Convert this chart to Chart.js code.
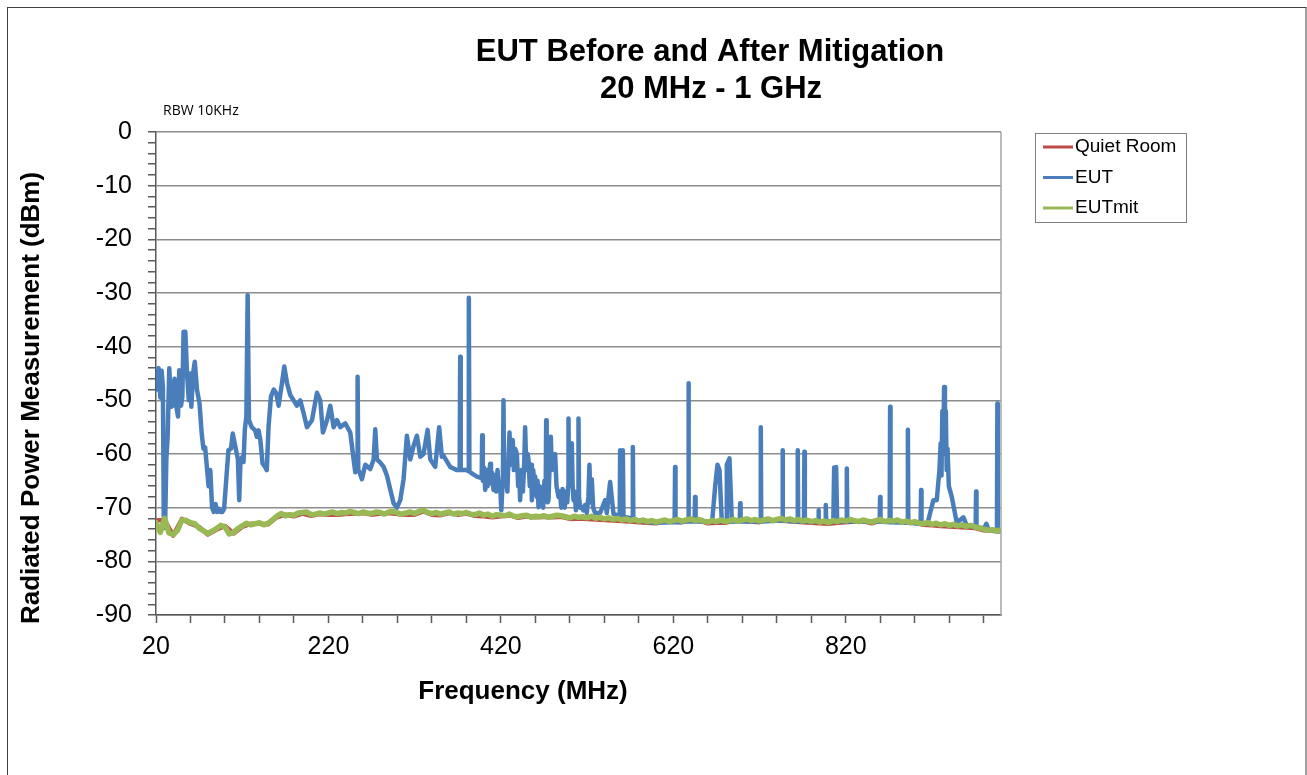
<!DOCTYPE html>
<html>
<head>
<meta charset="utf-8">
<title>EUT Before and After Mitigation</title>
<script src="https://cdn.jsdelivr.net/npm/chart.js@4.4.0/dist/chart.umd.min.js"></script>
<style>
  html, body { margin: 0; padding: 0; background: #fff; }
  #grafico { display: block; }
</style>
</head>
<body>
<canvas id="grafico" width="1307" height="775"></canvas>
<script>
// etiquetas de los ejes
const freqLabels = [20, 220, 420, 620, 820];
const levelLabels = [0, -10, -20, -30, -40, -50, -60, -70, -80, -90];
const freqTickStep = 40;
const levelTickStep = 2;

// barrido EUTmit: 20 MHz a 1 GHz cada 5 MHz
const mitStart = 20, mitStep = 5;
const mitLevel = [
  -72.8, -74.6, -72.0, -74.7, -75.0, -74.2, -72.3, -72.4, -72.8, -73.0,
  -73.8, -74.3, -74.8, -74.4, -73.9, -73.3, -73.6, -74.9, -74.6, -73.9,
  -73.4, -72.9, -73.2, -73.0, -72.8, -73.2, -72.9, -72.3, -71.6, -71.1,
  -71.5, -71.3, -71.4, -71.0, -70.9, -70.8, -71.3, -71.2, -71.0, -71.2,
  -71.0, -70.8, -71.1, -70.9, -71.0, -70.7, -70.9, -71.1, -70.8, -71.0,
  -71.1, -70.8, -70.9, -71.2, -70.8, -70.7, -71.0, -71.2, -71.0, -70.8,
  -71.1, -70.7, -70.5, -70.9, -71.1, -70.9, -71.2, -71.0, -70.8, -71.2,
  -71.0, -71.1, -70.9, -71.2, -71.3, -71.0, -71.4, -71.2, -71.6, -71.3,
  -71.4, -71.5, -71.2, -71.6, -71.7, -71.5, -71.4, -71.8, -71.6, -71.7,
  -71.5, -71.8, -71.6, -71.4, -71.5, -71.7, -71.9, -71.6, -71.8, -71.7,
  -71.9, -71.6, -72.0, -71.8, -72.1, -71.9, -72.2, -72.0, -72.3, -72.1,
  -72.4, -72.2, -72.5, -72.3, -72.6, -72.4, -72.7, -72.5, -72.3, -72.6,
  -72.4, -72.2, -72.5, -72.3, -72.1, -72.4, -72.2, -72.5, -72.7, -72.4,
  -72.6, -72.3, -72.6, -72.4, -72.2, -72.5, -72.3, -72.1, -72.4, -72.2,
  -72.5, -72.3, -72.1, -72.4, -72.2, -72.0, -72.3, -72.1, -72.4, -72.2,
  -72.5, -72.3, -72.6, -72.4, -72.7, -72.5, -72.8, -72.4, -72.6, -72.3,
  -72.5, -72.2, -72.4, -72.6, -72.3, -72.5, -72.7, -72.4, -72.2, -72.6,
  -72.4, -72.5, -72.3, -72.7, -72.5, -72.8, -72.6, -72.9, -73.0, -72.8,
  -73.1, -72.9, -73.2, -73.0, -73.3, -73.1, -73.4, -73.2, -73.5, -73.3,
  -73.6, -73.8, -74.0, -74.2, -74.1, -74.3, -74.2
];

// barrido Quiet Room: 20 MHz a 1 GHz cada 10 MHz
const roomStart = 20, roomStep = 10;
const roomLevel = [
  -72.4, -72.3, -75.2, -72.1, -73.0, -73.6, -75.0, -74.1, -73.4, -74.8,
  -73.6, -73.0, -73.0, -73.1, -71.8, -71.3, -71.6, -71.1, -71.5, -71.2,
  -71.3, -71.3, -71.2, -71.1, -71.0, -71.3, -71.1, -71.0, -71.2, -71.3,
  -71.3, -70.7, -71.3, -71.4, -71.0, -71.3, -71.1, -71.5, -71.6, -71.8,
  -71.6, -71.4, -71.9, -71.6, -71.8, -71.7, -71.8, -71.7, -72.1, -72.0,
  -72.1, -72.2, -72.3, -72.4, -72.5, -72.6, -72.7, -72.8, -72.9, -72.5,
  -72.6, -72.7, -72.3, -72.4, -72.9, -72.8, -72.8, -72.4, -72.5, -72.6,
  -72.7, -72.3, -72.4, -72.5, -72.6, -72.7, -72.8, -72.9, -73.0, -72.8,
  -72.7, -72.6, -72.5, -72.9, -72.4, -72.6, -72.5, -72.7, -72.8, -73.2,
  -73.3, -73.4, -73.5, -73.6, -73.7, -73.8, -74.2, -74.3, -74.4
];

// EUT sin mitigar: frecuencia (MHz) y nivel (dBm), fila a fila
const eutFreq = [
  20, 21, 23, 25, 26.5, 28, 29, 30.5, 32, 33.5,
  35.4, 37.5, 39.5, 41.5, 43.5, 45.5, 47, 49, 50.5, 52,
  54, 56, 58, 59.5, 61, 63, 65, 67.5, 70.5, 73,
  75, 77, 79, 81, 83, 85, 87, 89, 91, 93,
  95, 97, 99, 102, 104, 107, 109, 112, 115, 116.5,
  118, 120, 121.5, 123, 124.8, 126.3, 127.8, 131, 135, 137,
  139, 141, 143.6, 146.5, 148.5, 150.5, 153.3, 156.5, 159.5, 162.2,
  166.1, 168.8, 171.9, 175.7, 179.6, 183.5, 187.3, 191.2, 195.1, 200.9,
  206.7, 210.5, 213.6, 218.3, 222.1, 226, 229.9, 233.7, 239.5, 245.3,
  249.2, 251.1, 253.2, 253.8, 254.6, 256.1, 258.8, 262.7, 268.5, 272.4,
  274.3, 276.2, 280.1, 284, 287.8, 291.7, 295.6, 299.4, 303.3, 307.1,
  311, 314.9, 318.7, 322.6, 326.5, 330.3, 335, 338.1, 343.8, 348.4,
  351.5, 353, 361.2, 365, 369, 372.2, 372.8, 373.4, 380.5, 382.2,
  382.8, 383.5, 386.3, 392.1, 397.7, 398.3, 399, 400.5, 401.8, 403,
  404.5, 406, 407.6, 408.5, 410, 411.4, 413, 414.5, 416.1, 417.5,
  419.2, 420.5, 422.4, 423, 423.6, 425, 426.1, 427.5, 429, 430,
  431.5, 432.5, 433.8, 435, 436.5, 438.5, 440, 441.3, 442.3, 444,
  445.5, 447, 448.1, 449.5, 451, 452, 453.5, 455, 455.9, 457.5,
  459, 459.7, 461.5, 462.5, 463.6, 465, 466.5, 467.5, 469, 470.5,
  472, 472.5, 473.1, 474.2, 475.2, 476.5, 477.9, 479, 480.5, 482.9,
  484.5, 486.8, 488.5, 490, 491.5, 492.6, 494, 495.5, 497, 498,
  498.4, 499, 500.5, 502.2, 503.2, 504.2, 505.5, 507, 508.5, 509.5,
  510, 510.6, 512, 513.8, 515.5, 517.5, 519.6, 521.5, 522.7, 523.8,
  525.4, 527, 529.3, 535.1, 540.9, 542.8, 546.7, 550.6, 557.8, 558.3,
  559.5, 561.4, 562.2, 565, 572.5, 573, 573.6, 577.6, 596.9, 621.5,
  622, 622.5, 626, 637, 637.5, 638, 644.6, 645.2, 645.8, 665,
  668.5, 671.2, 673.5, 676.2, 681.5, 682, 685.1, 687.8, 697, 697.5,
  698, 701.3, 720.9, 721.4, 721.9, 746.1, 746.6, 747.1, 763.8, 764.3,
  764.8, 771.5, 772, 772.5, 787.8, 788.3, 788.8, 796.3, 796.8, 797.3,
  805.5, 806.5, 807.5, 808.8, 810, 820.7, 821.2, 821.7, 859.3, 859.8,
  860.3, 870.9, 871.4, 871.9, 891.5, 892, 892.5, 906.8, 907.3, 907.8,
  915, 917.8, 921.6, 925.5, 928.6, 930, 931, 932, 933, 934,
  935, 936, 937, 938, 939.5, 942.9, 948.7, 956.4, 960.2, 970.6,
  971.1, 971.6, 980.7, 983, 985.3, 989.2, 995.3, 995.8, 996.3, 998,
  1000
];
const eutLevel = [
  -48, -46, -44, -49.5, -44.5, -47.5, -71.7, -73.8, -61, -56.8,
  -44, -51.2, -51, -46, -51, -53, -44.4, -51, -49.5, -37.2,
  -37.2, -45, -50, -45, -51.2, -45, -42.8, -48, -50.6, -56.2,
  -59, -58.8, -62.4, -66, -63, -69.9, -70.8, -69.3, -70.8, -70.2,
  -70.8, -70.8, -70.2, -63.6, -59.3, -59, -56.2, -58.6, -61, -68.6,
  -61, -60.6, -61.5, -55.5, -53, -30.4, -53.7, -55, -55.6, -56.8,
  -55.6, -57.4, -61.8, -62.4, -63, -55, -49.3, -48, -48.7, -51,
  -46.8, -43.7, -46.8, -49, -50, -51, -50, -52.4, -55, -53.7,
  -48.6, -50, -56, -53.7, -51, -55, -53.7, -55, -54.3, -56,
  -61, -63.4, -63, -45.6, -63, -63.4, -64.7, -62, -62.8, -61,
  -55.4, -61, -61.6, -62.4, -64, -66.6, -69.2, -70, -68.6, -64.7,
  -56.6, -61, -58.5, -56.6, -60.5, -60, -55.5, -61, -62.4, -55,
  -60.5, -60.2, -62.4, -62.7, -63, -63, -41.9, -63, -63, -63.2,
  -30.9, -63.3, -63.6, -64.2, -64.5, -56.5, -65, -62.5, -66.7, -63,
  -66, -64, -61.8, -65.5, -63.5, -66.7, -64, -67, -63, -66.5,
  -66, -70.5, -64, -50, -64, -66, -63.6, -67, -60, -56,
  -62, -58, -57.4, -63, -59, -60, -66, -64, -68.6, -63,
  -67, -62, -55, -63, -60, -61, -66, -62, -68.6, -63,
  -66, -64.2, -68, -65, -69.9, -66, -69, -66.7, -70, -65,
  -66, -53.7, -66, -69, -68.6, -62, -56.8, -63, -61, -60,
  -66, -68, -67, -70, -66.5, -67.4, -70, -67, -69, -66,
  -53.4, -66, -61, -58, -66, -68.6, -67, -70.5, -68, -68,
  -53.4, -68, -70, -69.9, -70.5, -69.5, -71, -68, -62, -69,
  -64.7, -70, -71, -71, -68.6, -71, -65.2, -71.2, -71.5, -59.3,
  -62, -59.3, -71.8, -71.8, -72, -58.7, -72, -72.3, -72.8, -72.7,
  -62.4, -72.7, -72.7, -72.6, -46.8, -72.6, -72.6, -68, -72.6, -72.6,
  -66, -62, -63, -72.6, -72.6, -62, -60.8, -72.6, -72.6, -69.2,
  -72.6, -72.6, -72.6, -55, -72.6, -72.4, -59.3, -72.4, -72.6, -59.3,
  -72.6, -72.6, -59.6, -72.6, -72.6, -70.5, -72.6, -72.6, -69.5, -72.6,
  -72.6, -62.5, -70, -62.4, -72.6, -72.6, -62.7, -72.6, -72.6, -68,
  -72.6, -72.7, -51.2, -72.7, -72.8, -55.5, -72.8, -73, -66.7, -73,
  -72.8, -71, -68.6, -68.6, -63, -58, -64, -52, -60, -47.5,
  -58, -52, -63, -59, -66, -68, -72.8, -71.8, -73.3, -73.7,
  -67, -73.7, -73.8, -73, -74, -74.3, -74.4, -50.6, -74.4, -74.4,
  -74.4
];

function sweep(start, step, levels) {
  return levels.map((v, i) => ({ x: start + i * step, y: v }));
}

function pares(freqs, levels) {
  return freqs.map((f, i) => ({ x: f, y: levels[i] }));
}

// marco, títulos, leyenda y borde derecho del área de trazado
const decorado = {
  id: 'decorado',
  afterDraw(chart) {
    const ctx = chart.ctx;
    const area = chart.chartArea;
    ctx.save();

    ctx.strokeStyle = '#a6a6a6';
    ctx.lineWidth = 1.5;
    ctx.beginPath();
    ctx.moveTo(area.right, area.top);
    ctx.lineTo(area.right, area.bottom);
    ctx.stroke();

    ctx.strokeStyle = '#404040';
    ctx.lineWidth = 1;
    ctx.strokeRect(7.5, 7.5, 1298.5, 900);

    ctx.fillStyle = '#000';
    ctx.textAlign = 'center';
    ctx.textBaseline = 'alphabetic';
    ctx.font = 'bold 31px "Liberation Sans", Arial, sans-serif';
    ctx.fillText('EUT Before and After Mitigation', 710, 61);
    ctx.fillText('20 MHz - 1 GHz', 711, 98);

    ctx.font = 'bold 26px "Liberation Sans", Arial, sans-serif';
    ctx.fillText('Frequency (MHz)', 523, 699);

    ctx.save();
    ctx.translate(32, 398);
    ctx.rotate(-Math.PI / 2);
    ctx.textBaseline = 'middle';
    ctx.fillText('Radiated Power Measurement (dBm)', 0, 0);
    ctx.restore();

    ctx.textAlign = 'left';
    ctx.font = '14px "Open Sans", sans-serif';
    ctx.fillText('RBW 10KHz', 163, 115);

    // leyenda
    ctx.strokeStyle = '#7f7f7f';
    ctx.lineWidth = 1;
    ctx.strokeRect(1035.5, 133.5, 151, 89);
    ctx.font = '19px "Liberation Sans", Arial, sans-serif';
    ctx.textBaseline = 'middle';
    chart.data.datasets.forEach((ds, i) => {
      const y = 147 + i * 30.5;
      ctx.strokeStyle = ds.borderColor;
      ctx.lineWidth = 3;
      ctx.beginPath();
      ctx.moveTo(1043, y);
      ctx.lineTo(1073, y);
      ctx.stroke();
      ctx.fillStyle = '#000';
      ctx.fillText(ds.label, 1075, y);
    });

    ctx.restore();
  }
};

Chart.defaults.font.family = '"Liberation Sans", Arial, sans-serif';

new Chart(document.getElementById('grafico'), {
  type: 'line',
  data: {
    datasets: [
      { label: 'Quiet Room', data: sweep(roomStart, roomStep, roomLevel), borderColor: '#be4b48', borderWidth: 4.5, order: 2 },
      { label: 'EUT', data: pares(eutFreq, eutLevel), borderColor: '#4a7ebb', borderWidth: 4.5, order: 1 },
      { label: 'EUTmit', data: sweep(mitStart, mitStep, mitLevel), borderColor: '#98b954', borderWidth: 5.5, order: 0 }
    ]
  },
  options: {
    responsive: false,
    animation: false,
    layout: { padding: { top: 132, right: 306, bottom: 0, left: 0 } },
    elements: {
      point: { radius: 0 },
      line: { tension: 0, borderJoinStyle: 'round', borderCapStyle: 'round' }
    },
    plugins: {
      legend: { display: false },
      title: { display: false },
      tooltip: { enabled: false }
    },
    scales: {
      x: {
        type: 'linear',
        min: 20,
        max: 1000,
        afterBuildTicks: scale => {
          const ticks = [];
          for (let f = freqLabels[0]; f < scale.max; f += freqTickStep) ticks.push({ value: f });
          scale.ticks = ticks;
        },
        afterFit: scale => { scale.height = 160; },
        ticks: {
          autoSkip: false,
          maxRotation: 0,
          padding: 9,
          color: '#000',
          font: { size: 25 },
          callback: v => freqLabels.includes(v) ? String(v) : ''
        },
        grid: { drawOnChartArea: false, tickLength: 8, tickColor: '#595959', tickWidth: 1.5 },
        border: { color: '#595959', width: 1.5 }
      },
      y: {
        min: -90,
        max: 0,
        afterBuildTicks: scale => {
          const ticks = [];
          for (let v = levelLabels[levelLabels.length - 1]; v <= levelLabels[0]; v += levelTickStep) ticks.push({ value: v });
          scale.ticks = ticks;
        },
        afterFit: scale => { scale.width = 156; },
        ticks: {
          autoSkip: false,
          padding: 16,
          color: '#000',
          font: { size: 25 },
          callback: v => levelLabels.includes(v) ? String(v) : ''
        },
        grid: {
          color: c => levelLabels.includes(c.tick.value) ? '#8c8c8c' : 'rgba(0,0,0,0)',
          lineWidth: 1.5,
          tickLength: 8,
          tickColor: '#595959',
          tickWidth: 1.5
        },
        border: { color: '#595959', width: 1.5 }
      }
    }
  },
  plugins: [decorado]
});
</script>
</body>
</html>
